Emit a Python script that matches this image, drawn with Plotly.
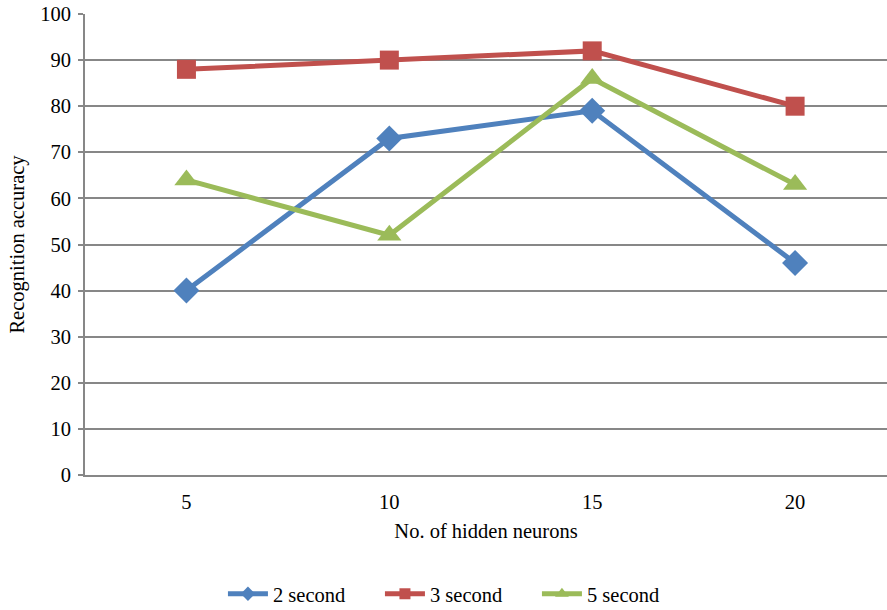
import plotly.graph_objects as go

# Number of hidden neurons (categories on the x axis)
hidden_neurons = ["5", "10", "15", "20"]

# Recognition accuracy for each utterance length
acc_2s = [40, 73, 79, 46]
acc_3s = [88, 90, 92, 80]
acc_5s = [64, 52, 86, 63]

y_ticks = list(range(0, 101, 10))

FONT = "Times New Roman, Liberation Serif, Times, serif"
FS = 20.5
GRID = "#878787"

series = [
    ("2 second", acc_2s, "#4F81BD", "diamond", 20, 11),
    ("3 second", acc_3s, "#C0504D", "square", 19, 11),
    ("5 second", acc_5s, "#9BBB59", "triangle-up", 21, 12),
]

fig = go.Figure()
for name, vals, color, symbol, msize, lsize in series:
    fig.add_trace(go.Scatter(
        x=hidden_neurons, y=vals, name=name, mode="lines+markers",
        line=dict(color=color, width=5),
        marker=dict(symbol=symbol, size=msize, color=color,
                    line=dict(width=0)),
        showlegend=False,
    ))
    # legend entry with a smaller marker
    fig.add_trace(go.Scatter(
        x=[None], y=[None], name=name, mode="lines+markers",
        line=dict(color=color, width=5),
        marker=dict(symbol=symbol, size=lsize, color=color,
                    line=dict(width=0)),
        showlegend=True,
    ))

fig.update_layout(
    width=887, height=610,
    margin=dict(l=85, r=0, t=14, b=135, autoexpand=False),
    paper_bgcolor="white", plot_bgcolor="white",
    font=dict(family=FONT, size=FS, color="black"),
    showlegend=True,
    legend=dict(orientation="h", x=0.172, xanchor="left", y=-0.258,
                yanchor="middle", font=dict(family=FONT, size=FS),
                itemwidth=40, entrywidth=102, entrywidthmode="pixels",
                traceorder="normal"),
)

fig.update_xaxes(
    type="category", range=[-0.5, 3.453], automargin=False,
    showgrid=False, showline=True, linecolor=GRID, linewidth=2,
    ticks="", ticklabelstandoff=7,
    tickfont=dict(family=FONT, size=FS, color="black"),
    title=dict(text="No. of hidden neurons",
               font=dict(family=FONT, size=FS, color="black"), standoff=12),
)

fig.update_yaxes(
    range=[0, 100], tickvals=y_ticks, automargin=False,
    showgrid=True, gridcolor=GRID, gridwidth=1.5,
    showline=True, linecolor=GRID, linewidth=2,
    ticks="outside", ticklen=5, tickcolor=GRID, tickwidth=1.5,
    ticklabelstandoff=3,
    tickfont=dict(family=FONT, size=FS, color="black"), zeroline=False,
    title=dict(text="Recognition accuracy",
               font=dict(family=FONT, size=FS, color="black"), standoff=10),
)

fig.write_html("out.html")
